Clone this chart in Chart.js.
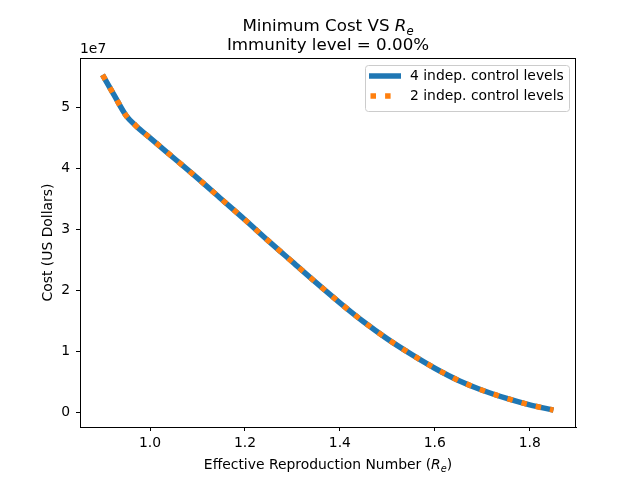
<!DOCTYPE html>
<html>
<head>
<meta charset="utf-8">
<title>Minimum Cost VS Re</title>
<script src="https://cdn.jsdelivr.net/npm/chart.js@4.4.1/dist/chart.umd.min.js"></script>
<style>
  html, body { margin: 0; padding: 0; background: #fff; }
  #wrap { width: 640px; height: 480px; }
</style>
</head>
<body>
<div id="wrap"><canvas id="myChart" width="640" height="480"></canvas></div>
<script>
// valori (costo in dollari)
const reValues = [0.90, 0.925, 0.95, 0.97, 1.00, 1.05, 1.10, 1.15, 1.20, 1.25, 1.30,
  1.35, 1.40, 1.45, 1.50, 1.55, 1.60, 1.65, 1.70, 1.75, 1.80, 1.85];
const cost4Levels = [5.53e7, 5.19e7, 4.86e7, 4.70e7, 4.50e7, 4.17e7, 3.84e7, 3.50e7, 3.16e7,
  2.81e7, 2.47e7, 2.13e7, 1.80e7, 1.49e7, 1.21e7, 0.96e7, 0.73e7, 0.53e7, 0.37e7, 0.24e7, 0.13e7, 0.045e7];
const cost2Levels = [5.53e7, 5.19e7, 4.86e7, 4.70e7, 4.50e7, 4.17e7, 3.84e7, 3.50e7, 3.16e7,
  2.81e7, 2.47e7, 2.13e7, 1.80e7, 1.49e7, 1.21e7, 0.96e7, 0.73e7, 0.53e7, 0.37e7, 0.24e7, 0.13e7, 0.045e7];
const xTicks = [1.0, 1.2, 1.4, 1.6, 1.8];
const yTicks = [0, 1e7, 2e7, 3e7, 4e7, 5e7];
const seriesLabels = ['4 indep. control levels', '2 indep. control levels'];
const seriesColors = ['#1f77b4', '#ff7f0e'];

const FONT = "'DejaVu Sans', sans-serif";
const LW = 5.5;
const DOTS = [5.5, 9.1]; // linea a puntini

// scrive testo con R_e in corsivo e pedice
function drawRich(ctx, parts, cx, y, size) {
  let total = 0;
  parts.forEach(p => {
    const s = p.sub ? size * 0.7 : size;
    ctx.font = (p.italic ? 'italic ' : '') + s + 'px ' + FONT;
    p.w = ctx.measureText(p.t).width;
    total += p.w;
  });
  let x = cx - total / 2;
  ctx.textAlign = 'left';
  ctx.textBaseline = 'alphabetic';
  parts.forEach(p => {
    const s = p.sub ? size * 0.7 : size;
    ctx.font = (p.italic ? 'italic ' : '') + s + 'px ' + FONT;
    ctx.fillText(p.t, x, p.sub ? y + size * 0.22 : y);
    x += p.w;
  });
}

const extrasPlugin = {
  id: 'extras',
  afterDraw(chart) {
    const ctx = chart.ctx;
    const a = chart.chartArea;
    ctx.save();
    ctx.fillStyle = '#000';

    // cornice
    ctx.strokeStyle = '#000';
    ctx.lineWidth = 1;
    ctx.strokeRect(a.left + 0.5, a.top + 0.5, a.right - a.left - 1, a.bottom - a.top);

    // titolo
    const cx = (a.left + a.right) / 2;
    drawRich(ctx, [{ t: 'Minimum Cost VS ' }, { t: 'R', italic: true }, { t: 'e', italic: true, sub: true }], cx, 31, 16.7);
    drawRich(ctx, [{ t: 'Immunity level = 0.00%' }], cx, 50, 16.7);

    // etichetta asse x
    drawRich(ctx, [{ t: 'Effective Reproduction Number (' }, { t: 'R', italic: true },
      { t: 'e', italic: true, sub: true }, { t: ')' }], cx, 469, 13.9);

    // etichetta asse y
    ctx.save();
    ctx.translate(52, (a.top + a.bottom) / 2);
    ctx.rotate(-Math.PI / 2);
    ctx.font = '13.9px ' + FONT;
    ctx.textAlign = 'center';
    ctx.textBaseline = 'alphabetic';
    ctx.fillText('Cost (US Dollars)', 0, 0);
    ctx.restore();

    // moltiplicatore
    ctx.font = '13.9px ' + FONT;
    ctx.textAlign = 'left';
    ctx.textBaseline = 'alphabetic';
    ctx.fillText('1e7', a.left, 53);

    // legenda
    const lx = 365.5, ly = 65.5, lw = 204, lh = 46;
    ctx.beginPath();
    ctx.roundRect(lx, ly, lw, lh, 3);
    ctx.fillStyle = 'rgba(255,255,255,0.8)';
    ctx.fill();
    ctx.strokeStyle = '#cccccc';
    ctx.lineWidth = 1;
    ctx.stroke();

    const rows = [76, 96];
    rows.forEach((ry, i) => {
      ctx.beginPath();
      ctx.strokeStyle = seriesColors[i];
      ctx.lineWidth = LW;
      ctx.lineCap = 'butt';
      if (i === 1) {
        ctx.setLineDash(DOTS);
        ctx.moveTo(370.5, ry);
        ctx.lineTo(399, ry);
      } else {
        ctx.moveTo(369, ry);
        ctx.lineTo(401, ry);
      }
      ctx.stroke();
      ctx.setLineDash([]);
      ctx.fillStyle = '#000';
      ctx.font = '13.9px ' + FONT;
      ctx.textBaseline = 'middle';
      ctx.fillText(seriesLabels[i], 410, ry);
    });
    ctx.restore();
  }
};

const ctx = document.getElementById('myChart').getContext('2d');
const myChart = new Chart(ctx, {
  type: 'line',
  data: {
    datasets: [
      {
        label: seriesLabels[0],
        data: reValues.map((r, i) => ({ x: r, y: cost4Levels[i] })),
        borderColor: seriesColors[0],
        borderWidth: LW,
        pointRadius: 0,
        cubicInterpolationMode: 'monotone',
        order: 2
      },
      {
        label: seriesLabels[1],
        data: reValues.map((r, i) => ({ x: r, y: cost2Levels[i] })),
        borderColor: seriesColors[1],
        borderWidth: LW,
        borderDash: DOTS,
        borderCapStyle: 'butt',
        pointRadius: 0,
        cubicInterpolationMode: 'monotone',
        order: 1
      }
    ]
  },
  options: {
    responsive: false,
    animation: false,
    layout: { padding: { top: 58, right: 64, bottom: 0, left: 0 } },
    plugins: {
      legend: { display: false },
      title: { display: false },
      tooltip: { enabled: false }
    },
    scales: {
      x: {
        type: 'linear',
        min: 0.8525,
        max: 1.8975,
        afterBuildTicks: s => { s.ticks = xTicks.map(v => ({ value: v })); },
        afterFit: s => { s.height = 53; },
        grid: { display: true, drawOnChartArea: false, drawTicks: true, tickLength: 4, tickColor: '#000' },
        border: { display: true, color: '#000', width: 1 },
        ticks: {
          color: '#000',
          padding: 4,
          maxRotation: 0,
          font: { family: FONT, size: 13.9 },
          callback: v => v.toFixed(1)
        }
      },
      y: {
        type: 'linear',
        min: -0.232e7,
        max: 5.807e7,
        afterBuildTicks: s => { s.ticks = yTicks.map(v => ({ value: v })); },
        afterFit: s => { s.width = 80; },
        grid: { display: true, drawOnChartArea: false, drawTicks: true, tickLength: 4, tickColor: '#000' },
        border: { display: true, color: '#000', width: 1 },
        ticks: {
          color: '#000',
          padding: 6,
          font: { family: FONT, size: 13.9 },
          callback: v => String(Math.round(v / 1e7))
        }
      }
    }
  },
  plugins: [extrasPlugin]
});
</script>
</body>
</html>
